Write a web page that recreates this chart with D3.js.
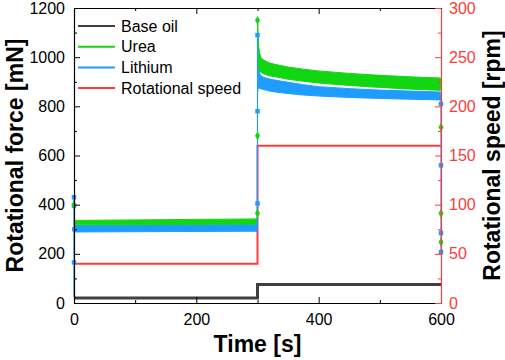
<!DOCTYPE html>
<html>
<head>
<meta charset="utf-8">
<script src="https://cdn.jsdelivr.net/npm/d3@7"></script>
<style>
  body { margin: 0; background: #fff; }
  text { font-family: "Liberation Sans", Arial, sans-serif; }
</style>
</head>
<body>
<svg width="505" height="360"></svg>
<script>
// data
const speedTime = [0, 300, 300, 600];
const speedRpm = [40, 40, 160, 160];

const baseTime = [0, 300, 300, 600];
const baseForce = [20, 20, 75, 75];

// band of the noisy measurement (min / max), first phase
const slowTime = [0.5, 100, 200, 299.5];
const ureaHiSlow = [336, 338, 340, 342];
const ureaLoSlow = [318, 318, 320, 321];
const lithHiSlow = [316, 317, 318, 319];
const lithLoSlow = [289, 290, 291, 292];

// second phase after the speed step
const fastTime = [300.3, 301, 302, 304, 306, 310, 315, 320, 330, 350, 375, 400, 450, 500, 550, 599.5];
const ureaHiFast = [1150, 1090, 1040, 1012, 998, 988, 982, 976, 970, 960, 951, 944, 934, 926, 920, 915];
const ureaLoFast = [960, 955, 948, 942, 938, 932, 928, 924, 920, 910, 902, 895, 885, 877, 870, 865];
const lithHiFast = [1090, 1000, 950, 932, 924, 918, 914, 911, 906, 898, 888, 880, 872, 866, 862, 858];
const lithLoFast = [860, 875, 875, 873, 871, 868, 865, 862, 858, 852, 846, 842, 836, 832, 829, 826];

// isolated points at start / step / stop
const ureaJumps = [
  [[0, 330], [0, 400]],
  [[300, 335], [300, 365], [300, 680], [300, 1150]],
  [[600, 890], [600, 715], [600, 365], [600, 248]]
];
const lithJumps = [
  [[0, 25], [0, 165], [0, 395], [0, 430], [0.5, 300]],
  [[299.5, 305], [300, 405], [300, 780], [300, 1090]],
  [[599.5, 845], [600, 810], [600, 560], [600, 285], [600, 207]]
];

const legendNames = ["Base oil", "Urea", "Lithium", "Rotational speed"];

const cGray = "#404040", cGreen = "#12d612", cBlue = "#1f9dff", cRed = "#ff3a3a";

const svg = d3.select("svg");
const margin = {top: 8, right: 64, bottom: 57, left: 74};
const W = 505, H = 360;

const x = d3.scaleLinear().domain([0, 600]).range([margin.left, W - margin.right]);
const yL = d3.scaleLinear().domain([0, 1200]).range([H - margin.bottom, margin.top]);
const yR = d3.scaleLinear().domain([0, 300]).range([H - margin.bottom, margin.top]);

const plot = svg.append("g");

// bands
function band(t, lo, hi, color) {
  const pts = t.map((d, i) => ({t: d, lo: lo[i], hi: hi[i]}));
  plot.append("path")
    .datum(pts)
    .attr("fill", color)
    .attr("stroke", color)
    .attr("stroke-width", 1)
    .attr("d", d3.area().x(d => x(d.t)).y0(d => yL(d.lo)).y1(d => yL(d.hi)));
}

const line = d3.line().x(d => x(d[0])).y(d => yL(d[1]));

// red speed line
plot.append("path")
  .datum(speedTime.map((t, i) => [t, speedRpm[i]]))
  .attr("fill", "none").attr("stroke", cRed).attr("stroke-width", 2)
  .attr("d", d3.line().x(d => x(d[0])).y(d => yR(d[1])));

// base oil
plot.append("path")
  .datum(baseTime.map((t, i) => [t, baseForce[i]]))
  .attr("fill", "none").attr("stroke", cGray).attr("stroke-width", 3)
  .attr("d", line);

band(slowTime, lithLoSlow, lithHiSlow, cBlue);
band(fastTime, lithLoFast, lithHiFast, cBlue);
band(slowTime, ureaLoSlow, ureaHiSlow, cGreen);
band(fastTime, ureaLoFast, ureaHiFast, cGreen);

const diamond = d3.symbol().type(d3.symbolDiamond).size(22);
const square = d3.symbol().type(d3.symbolSquare).size(20);

function jumps(list, color, sym, withLine) {
  list.forEach(seg => {
    if (withLine) {
      plot.append("path").datum(seg)
        .attr("fill", "none").attr("stroke", color).attr("stroke-width", 1.2)
        .attr("d", line);
    }
    plot.selectAll(null).data(seg.slice(1)).join("path")
      .attr("transform", d => `translate(${x(d[0])},${yL(d[1])})`)
      .attr("fill", color)
      .attr("d", sym);
  });
}
jumps(lithJumps, cBlue, square, true);
jumps(ureaJumps, cGreen, diamond, false);

// axes
function styleAxis(g, color) {
  g.select(".domain").attr("stroke", color).attr("stroke-width", 1.2);
  g.selectAll(".tick line").attr("stroke", color);
  g.selectAll(".tick text").attr("fill", color).style("font-size", "16px");
}

const fmt = d3.format("d");
const minorX = d3.range(100, 600, 200);
const minorL = d3.range(100, 1200, 200);
const minorR = d3.range(25, 300, 50);

// bottom
const gx = svg.append("g").attr("transform", `translate(0,${H - margin.bottom})`)
  .call(d3.axisBottom(x).tickValues([0, 200, 400, 600]).tickFormat(fmt).tickSizeInner(-6).tickSizeOuter(0).tickPadding(11));
styleAxis(gx, "#000");
gx.selectAll(".tick text").attr("dy", "0.71em");
svg.append("g").attr("transform", `translate(0,${H - margin.bottom})`)
  .call(d3.axisBottom(x).tickValues(minorX).tickSize(-3).tickFormat(""))
  .call(g => g.select(".domain").remove());

// top
const gt = svg.append("g").attr("transform", `translate(0,${margin.top})`)
  .call(d3.axisTop(x).tickValues([0, 200, 400, 600]).tickSizeInner(-6).tickSizeOuter(0).tickFormat(""));
styleAxis(gt, "#000");
svg.append("g").attr("transform", `translate(0,${margin.top})`)
  .call(d3.axisTop(x).tickValues(minorX).tickSize(-3).tickFormat(""))
  .call(g => g.select(".domain").remove());

// left
const gl = svg.append("g").attr("transform", `translate(${margin.left},0)`)
  .call(d3.axisLeft(yL).tickValues(d3.range(0, 1201, 200)).tickFormat(fmt).tickSizeInner(-6).tickSizeOuter(0).tickPadding(9));
styleAxis(gl, "#000");
svg.append("g").attr("transform", `translate(${margin.left},0)`)
  .call(d3.axisLeft(yL).tickValues(minorL).tickSize(-3).tickFormat(""))
  .call(g => g.select(".domain").remove());

// right (red)
const gr = svg.append("g").attr("transform", `translate(${W - margin.right},0)`)
  .call(d3.axisRight(yR).tickValues(d3.range(0, 301, 50)).tickFormat(fmt).tickSizeInner(-6).tickSizeOuter(0).tickPadding(8));
styleAxis(gr, cRed);
svg.append("g").attr("transform", `translate(${W - margin.right},0)`)
  .call(d3.axisRight(yR).tickValues(minorR).tickSize(-3).tickFormat(""))
  .call(g => g.select(".domain").remove())
  .call(g => g.selectAll("line").attr("stroke", cRed));

// titles
svg.append("text")
  .attr("transform", `translate(23,${(margin.top + H - margin.bottom) / 2}) rotate(-90)`)
  .attr("text-anchor", "middle")
  .style("font-size", "23px").style("font-weight", "bold")
  .text("Rotational force [mN]");

svg.append("text")
  .attr("transform", `translate(500,${(margin.top + H - margin.bottom) / 2}) rotate(-90)`)
  .attr("text-anchor", "middle")
  .style("font-size", "23px").style("font-weight", "bold")
  .text("Rotational speed [rpm]");

svg.append("text")
  .attr("x", (margin.left + W - margin.right) / 2)
  .attr("y", 352)
  .attr("text-anchor", "middle")
  .style("font-size", "23px").style("font-weight", "bold")
  .text("Time [s]");

// legend
const legColors = [cGray, cGreen, cBlue, cRed];
const legSyms = [null, diamond, square, null];
const leg = svg.append("g").selectAll("g").data(legendNames).join("g")
  .attr("transform", (d, i) => `translate(78,${26 + i * 20.7})`);
leg.append("line").attr("x1", 0).attr("x2", 37)
  .attr("stroke", (d, i) => legColors[i]).attr("stroke-width", 2);
leg.filter((d, i) => legSyms[i]).append("path")
  .attr("transform", "translate(18.5,0)")
  .attr("fill", d => legColors[legendNames.indexOf(d)])
  .attr("d", d => legSyms[legendNames.indexOf(d)]);
leg.append("text").attr("x", 43).attr("dy", "0.35em")
  .style("font-size", "16px").text(d => d);
</script>
</body>
</html>
